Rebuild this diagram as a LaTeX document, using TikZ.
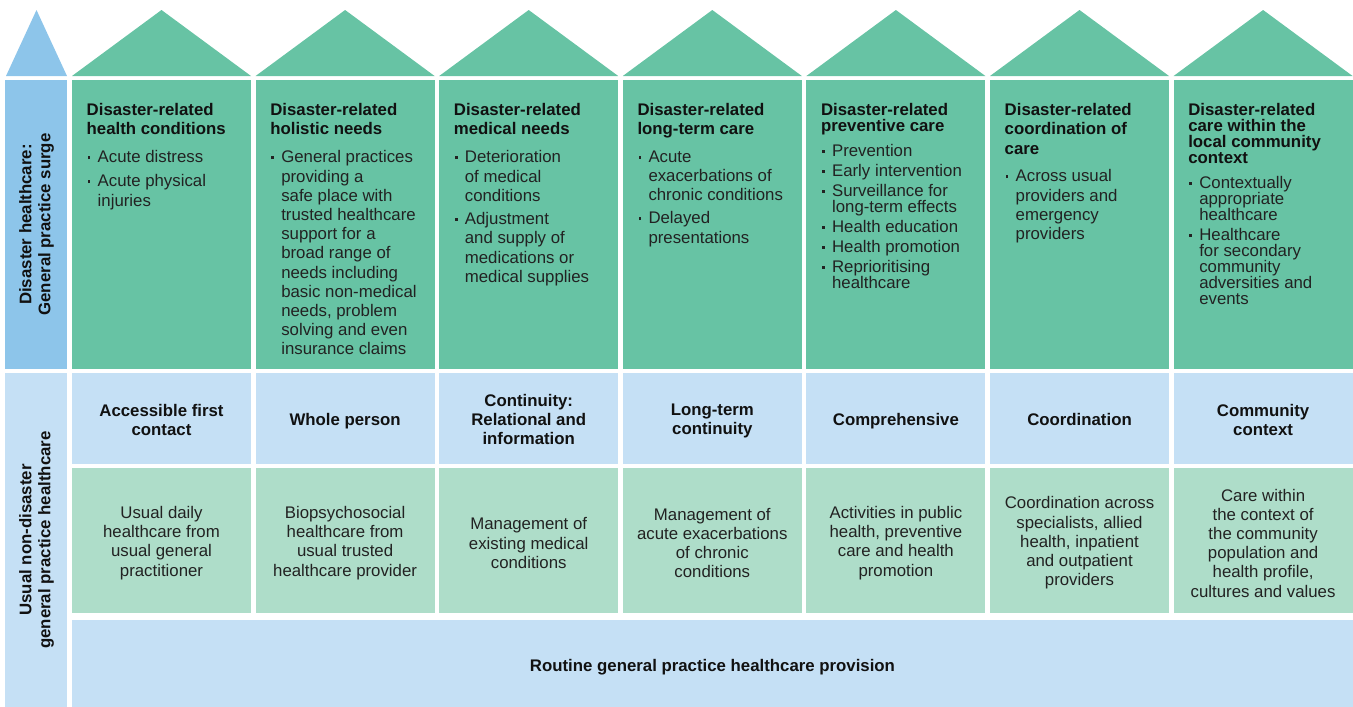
\documentclass[tikz,border=0pt]{standalone}
\usepackage{fontspec}
\setmainfont{Liberation Sans}

\definecolor{surgegreen}{HTML}{67C3A4}
\definecolor{sideblue}{HTML}{8DC5EA}
\definecolor{rowblue}{HTML}{C5E0F5}
\definecolor{rowgreen}{HTML}{AEDDC9}
\definecolor{ink}{HTML}{111111}
\definecolor{softink}{HTML}{222222}

% bullet and hanging indent for the lists
\newcommand{\itm}{\makebox[11pt][l]{\hspace*{1pt}\raisebox{3.7pt}{\rule{2.7pt}{2.7pt}}}}
\newcommand{\cnt}{\hspace*{11pt}}

\tikzset{
  surge/.style={fill=surgegreen},
  side/.style={fill=sideblue},
  princ/.style={fill=rowblue},
  usual/.style={fill=rowgreen},
  headtxt/.style={anchor=north west, inner sep=0pt, align=left, text=ink,
    font=\fontsize{16.8}{19.6}\selectfont\bfseries},
  listtxt/.style={anchor=north west, inner sep=0pt, align=left, text=softink,
    font=\fontsize{16.8}{19.3}\selectfont},
  princtxt/.style={inner sep=0pt, align=center, text=ink,
    font=\fontsize{16.8}{19}\selectfont\bfseries},
  usualtxt/.style={inner sep=0pt, align=center, text=softink,
    font=\fontsize{16.8}{19.2}\selectfont},
  sidetxt/.style={inner sep=0pt, align=center, text=ink, rotate=90,
    font=\fontsize{16.8}{19}\selectfont\bfseries}
}

\begin{document}
\begin{tikzpicture}[x=1pt, y=-1pt]
  \useasboundingbox (0,0) rectangle (1353,707);

  % roofs and blocks
  \fill[side] (6,76) -- (36.5,10) -- (67,76) -- cycle;
  \fill[side] (5,80) rectangle (67,369);
  \fill[princ] (5,373) rectangle (67,707);
  \foreach \i in {0,...,6}{
    \pgfmathsetmacro\xa{72+183.6*\i}
    \pgfmathsetmacro\xb{\xa+179}
    \fill[surge] (\xa,76) -- ({(\xa+\xb)/2},10) -- (\xb,76) -- cycle;
    \fill[surge] (\xa,80) rectangle (\xb,369);
    \fill[princ] (\xa,373) rectangle (\xb,464);
    \fill[usual] (\xa,468) rectangle (\xb,613);
  }
  \fill[princ] (72,620) rectangle (1353,707);

  % side labels
  \node[sidetxt] (surgelabel) at (36.5,224.5) {Disaster healthcare:\\General practice surge};
  \node[sidetxt] (usuallabel) at (36.5,540) {Usual non-disaster\\general practice healthcare};

  % disaster row
  \node[headtxt] (h1) at (86.5,103) {Disaster-related\\health conditions};
  \node[listtxt] (l1) at (86.5,150.5) {\itm Acute distress\\[4.7pt]
    \itm Acute physical\\ \cnt injuries};

  \node[headtxt] (h2) at (270.1,103) {Disaster-related\\holistic needs};
  \node[listtxt, font=\fontsize{16.8}{19.2}\selectfont] (l2) at (270.1,150.5) {\itm General practices\\
    \cnt providing a\\ \cnt safe place with\\ \cnt trusted healthcare\\
    \cnt support for a\\ \cnt broad range of\\ \cnt needs including\\
    \cnt basic non-medical\\ \cnt needs, problem\\ \cnt solving and even\\
    \cnt insurance claims};

  \node[headtxt] (h3) at (453.7,103) {Disaster-related\\medical needs};
  \node[listtxt] (l3) at (453.7,150.5) {\itm Deterioration\\ \cnt of medical\\
    \cnt conditions\\[3.7pt] \itm Adjustment\\ \cnt and supply of\\
    \cnt medications or\\ \cnt medical supplies};

  \node[headtxt] (h4) at (637.3,103) {Disaster-related\\long-term care};
  \node[listtxt] (l4) at (637.3,150.5) {\itm Acute\\ \cnt exacerbations of\\
    \cnt chronic conditions\\[3.7pt] \itm Delayed\\ \cnt presentations};

  \node[headtxt, font=\fontsize{16.8}{16}\selectfont\bfseries] (h5) at (820.9,103)
    {Disaster-related\\preventive care};
  \node[listtxt, font=\fontsize{16.8}{16}\selectfont] (l5) at (820.9,144) {\itm Prevention\\[4pt]
    \itm Early intervention\\[4pt] \itm Surveillance for\\ \cnt long-term effects\\[4pt]
    \itm Health education\\[4pt] \itm Health promotion\\[4pt]
    \itm Reprioritising\\ \cnt healthcare};

  \node[headtxt] (h6) at (1004.5,103) {Disaster-related\\coordination of\\care};
  \node[listtxt] (l6) at (1004.5,169.5) {\itm Across usual\\ \cnt providers and\\
    \cnt emergency\\ \cnt providers};

  \node[headtxt, font=\fontsize{16.8}{16}\selectfont\bfseries] (h7) at (1188.1,103)
    {Disaster-related\\care within the\\local community\\context};
  \node[listtxt, font=\fontsize{16.8}{16}\selectfont] (l7) at (1188.1,176) {\itm Contextually\\
    \cnt appropriate\\ \cnt healthcare\\[4pt] \itm Healthcare\\ \cnt for secondary\\
    \cnt community\\ \cnt adversities and\\ \cnt events};

  % principles row
  \node[princtxt] (p1) at (161.5,420) {Accessible first\\contact};
  \node[princtxt] (p2) at (345.1,421) {Whole person};
  \node[princtxt] (p3) at (528.7,419) {Continuity:\\Relational and\\information};
  \node[princtxt] (p4) at (712.3,421) {Long-term\\continuity};
  \node[princtxt] (p5) at (895.9,421) {Comprehensive};
  \node[princtxt] (p6) at (1079.5,419) {Coordination};
  \node[princtxt] (p7) at (1263.1,420) {Community\\context};

  % usual care row
  \node[usualtxt] (u1) at (161.5,543) {Usual daily\\healthcare from\\usual general\\practitioner};
  \node[usualtxt] (u2) at (345.1,543) {Biopsychosocial\\healthcare from\\usual trusted\\healthcare provider};
  \node[usualtxt] (u3) at (528.7,543) {Management of\\existing medical\\conditions};
  \node[usualtxt] (u4) at (712.3,543) {Management of\\acute exacerbations\\of chronic\\conditions};
  \node[usualtxt] (u5) at (895.9,543) {Activities in public\\health, preventive\\care and health\\promotion};
  \node[usualtxt] (u6) at (1079.5,543) {Coordination across\\specialists, allied\\health, inpatient\\and outpatient\\providers};
  \node[usualtxt] (u7) at (1263.1,543) {Care within\\the context of\\the community\\population and\\health profile,\\cultures and values};

  % base
  \node[princtxt] (base) at (712.5,667) {Routine general practice healthcare provision};
\end{tikzpicture}
\end{document}
